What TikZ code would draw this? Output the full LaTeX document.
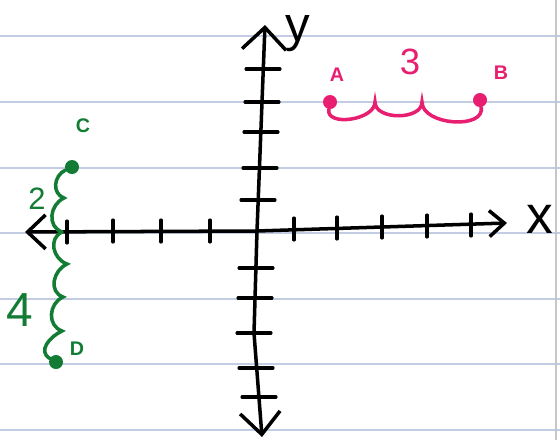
\documentclass[tikz,border=0pt]{standalone}
\usepackage{fontspec}
\setmainfont{Liberation Sans}
\usetikzlibrary{arrows.meta}
\definecolor{inkpink}{RGB}{232,30,112}
\definecolor{inkgreen}{RGB}{18,124,52}
\definecolor{paperblue}{RGB}{194,205,228}

\tikzset{
  paperline/.style={paperblue, line width=2pt},
  axisline/.style={line width=5pt, line cap=round, line join=round},
  tickline/.style={line width=4.5pt, line cap=round},
  wiggle/.style={line width=5pt, line cap=round},
  dot/.style={circle, fill, inner sep=0pt, minimum size=0.7cm},
  lbl/.style={inner sep=0pt},
}

\begin{document}
\begin{tikzpicture}[x=0.05cm,y=-0.05cm]
    \useasboundingbox (0,0) rectangle (560,440);
    \fill[white] (0,0) rectangle (560,440);

    % лінійки зошита
    \foreach \ly in {36,102,168,233,299,364,430}
        \draw[paperline] (0,\ly) -- (560,\ly);
    \draw[gray!45, line width=1.5pt] (556,0) -- (556,440);

    % осі
    \coordinate (O) at (257,231);
    \coordinate (Xl) at (25,232);
    \coordinate (Xr) at (507,223);
    \coordinate (Yt) at (265,25);
    \coordinate (Yb) at (262,437);

    \draw[axisline, {Straight Barb[length=0.9cm,width=1.7cm]}-{Straight Barb[length=0.75cm,width=1.3cm]}]
        (Xl) -- (O) -- (Xr);
    \draw[axisline, {Straight Barb[length=1.1cm,width=2.2cm]}-{Straight Barb[length=1.1cm,width=2cm]}]
        (Yt) -- (O) -- (254,333) -- (Yb);

    % поділки
    \foreach \tx/\ty in {67/232,113/231,161/231,210/231,294/229,337/228,382/227,427/226,471/225}
        \draw[tickline] (\tx,\ty-11) -- (\tx,\ty+11);
    \foreach \tx/\ty in {263/69,262/102,261/132,260/168,258/200,256/268,255/298,254/333,256/368,259/397}
        \draw[tickline] (\tx-17,\ty) -- (\tx+17,\ty);

    \node[lbl, font=\fontsize{76}{76}\selectfont] (xlab) at (540,219) {x};
    \node[lbl, font=\fontsize{70}{70}\selectfont] (ylab) at (298,34) {y};

    % точки A, B (відстань 3)
    \node[dot, inkpink] (A) at (330,102) {};
    \node[dot, inkpink] (B) at (480,100) {};
    \coordinate (ab1) at (375,102);
    \coordinate (ab2) at (422,102);
    \draw[wiggle, inkpink] (A) to[out=-100,in=-90] (ab1)
        to[out=-90,in=-90] (ab2)
        to[out=-90,in=-80] (B);
    \node[lbl, inkpink, font=\fontsize{28}{28}\selectfont\bfseries] (labA) at (337,75) {A};
    \node[lbl, inkpink, font=\fontsize{28}{28}\selectfont\bfseries] (labB) at (501,73) {B};
    \node[lbl, inkpink, font=\fontsize{52}{52}\selectfont] (ab) at (410,62) {3};

    % точки C, D (2 і 4 до осі x)
    \node[dot, inkgreen] (C) at (72,167) {};
    \node[dot, inkgreen] (D) at (56,362) {};
    \coordinate (cx) at (62,232);
    \coordinate (c1) at (64,198);
    \coordinate (d1) at (67,264);
    \coordinate (d2) at (63,297);
    \coordinate (d3) at (62,331);
    \draw[wiggle, inkgreen] (C) to[out=205,in=160,looseness=1.2] (c1)
        to[out=205,in=160,looseness=1.2] (cx);
    \draw[wiggle, inkgreen] (cx) to[out=205,in=160,looseness=1.2] (d1)
        to[out=205,in=160,looseness=1.2] (d2)
        to[out=205,in=160,looseness=1.2] (d3)
        to[out=205,in=150,looseness=1.2] (D);
    \node[lbl, inkgreen, font=\fontsize{28}{28}\selectfont\bfseries] (labC) at (83,126) {C};
    \node[lbl, inkgreen, font=\fontsize{28}{28}\selectfont\bfseries] (labD) at (77,349) {D};
    \node[lbl, inkgreen, font=\fontsize{44}{44}\selectfont] (cd2) at (37,199) {2};
    \node[lbl, inkgreen, font=\fontsize{68}{68}\selectfont] (cd4) at (20,310) {4};
\end{tikzpicture}
\end{document}
